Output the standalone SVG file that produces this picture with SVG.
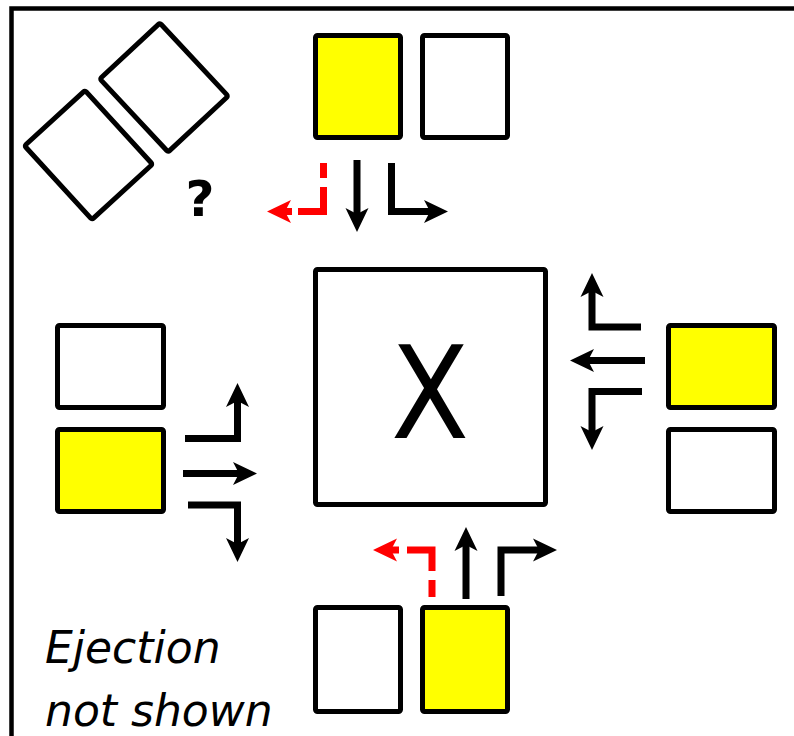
<svg xmlns="http://www.w3.org/2000/svg" width="794" height="736" viewBox="0 0 794 736">
  <style>
    .box { stroke: #000; stroke-width: 5; stroke-linejoin: round; }
    .empty { fill: #fff; }
    .lit { fill: #ffff00; }
    .flow { fill: none; stroke: #000; stroke-width: 7; stroke-linejoin: miter; stroke-linecap: butt; marker-end: url(#head); }
    .flow.red { stroke: #ff0000; marker-end: url(#headRed); }
    .label { font-family: "DejaVu Sans", Verdana, sans-serif; fill: #000; }
  </style>
  <defs>
    <marker id="head" markerUnits="userSpaceOnUse" orient="auto" refX="6" refY="0" markerWidth="30" markerHeight="30" overflow="visible">
      <path d="M0,-11.5 L24,0 L0,11.5 L6,0 Z" fill="#000"/>
    </marker>
    <marker id="headRed" markerUnits="userSpaceOnUse" orient="auto" refX="6" refY="0" markerWidth="30" markerHeight="30" overflow="visible">
      <path d="M0,-11.5 L24,0 L0,11.5 L6,0 Z" fill="#ff0000"/>
    </marker>
  </defs>

  <rect width="794" height="736" fill="#fff"/>

  <!-- outer frame, running off the right and bottom edges -->
  <g id="frame">
    <rect x="11.5" y="8.5" width="820" height="760" fill="none" stroke="#000" stroke-width="4.5"/>
  </g>

  <!-- tilted pair, top left -->
  <g id="tilted-pair">
    <rect class="box empty" transform="translate(88.5,155) rotate(47.5)" x="-50" y="-41" width="100" height="82" rx="2"/>
    <rect class="box empty" transform="translate(164,87.5) rotate(47)" x="-50" y="-41" width="100" height="82" rx="2"/>
    <text class="label" x="200" y="216" font-size="50" font-weight="bold" text-anchor="middle">?</text>
  </g>

  <!-- north approach -->
  <g id="north">
    <rect class="box lit" x="315.5" y="35.5" width="85" height="102" rx="2"/>
    <rect class="box empty" x="422.5" y="35.5" width="85" height="102" rx="2"/>
  </g>

  <!-- west approach -->
  <g id="west">
    <rect class="box empty" x="57.5" y="325.5" width="106" height="82" rx="2"/>
    <rect class="box lit" x="57.5" y="429.5" width="106" height="82" rx="2"/>
  </g>

  <!-- east approach -->
  <g id="east">
    <rect class="box lit" x="668.5" y="325.5" width="106" height="82" rx="2"/>
    <rect class="box empty" x="668.5" y="429.5" width="106" height="82" rx="2"/>
  </g>

  <!-- south approach -->
  <g id="south">
    <rect class="box empty" x="315.5" y="607.5" width="85" height="104" rx="2"/>
    <rect class="box lit" x="422.5" y="607.5" width="85" height="104" rx="2"/>
  </g>

  <!-- central junction -->
  <g id="junction">
    <rect class="box empty" x="315.5" y="269.5" width="230" height="235" rx="2"/>
    <text class="label" transform="translate(430,438) scale(0.89,1)" x="0" y="0" font-size="128" text-anchor="middle">X</text>
  </g>

  <!-- movement arrows -->
  <g id="connectors">
    <!-- from north -->
    <path class="flow" d="M357,160 V214"/>
    <path class="flow" d="M391.5,163 V211.5 H430"/>
    <path class="flow red" stroke-dasharray="15 9 50 6 20" d="M323.5,163 V211.5 H285"/>
    <!-- from west -->
    <path class="flow" d="M185,438.5 H237.5 V401"/>
    <path class="flow" d="M183,473.5 H239"/>
    <path class="flow" d="M188,505 H237.5 V544"/>
    <!-- from east -->
    <path class="flow" d="M641,327 H592 V291"/>
    <path class="flow" d="M645,360.5 H588"/>
    <path class="flow" d="M642,391.5 H592 V432"/>
    <!-- from south -->
    <path class="flow" d="M466,599 V545"/>
    <path class="flow" d="M501,596 V550 H539"/>
    <path class="flow red" stroke-dasharray="17 9 46 8 20" d="M432,597 V550 H391"/>
  </g>

  <!-- note -->
  <g id="note">
    <text class="label" font-size="44" font-style="italic">
      <tspan x="45" y="663">Ejection</tspan>
      <tspan x="45" y="726">not shown</tspan>
    </text>
  </g>
</svg>
